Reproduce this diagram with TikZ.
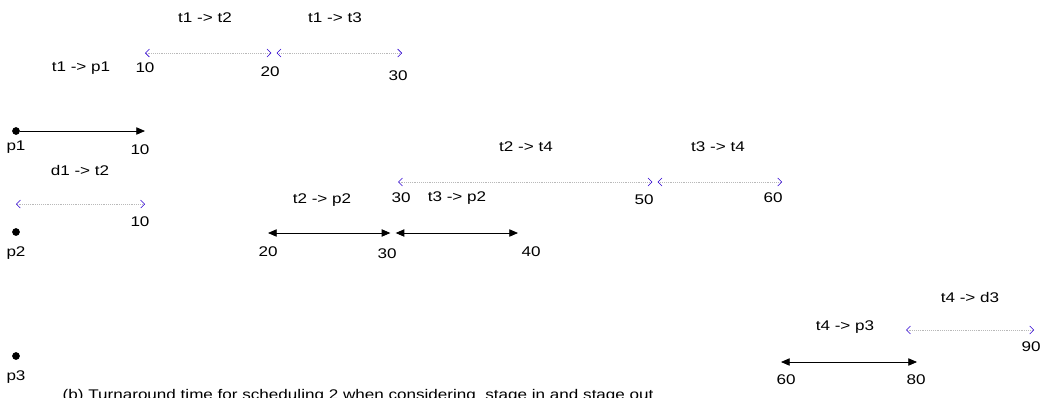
\documentclass[tikz,border=0pt]{standalone}
\usepackage{fontspec}
\setmainfont{Liberation Sans}
\usetikzlibrary{arrows.meta}
\newcommand{\widetxt}[1]{\scalebox{1.22}[1]{#1}}
\begin{document}
\begin{tikzpicture}[x=0.75pt, y=-0.75pt, font=\fontsize{10.5}{12}\selectfont,
    proc/.style={circle, fill=black, inner sep=0pt, minimum size=5.8pt},
    busy/.style={{Triangle[length=6.5pt,width=5.5pt]}-{Triangle[length=6.5pt,width=5.5pt]}, semithick},
    xfer/.style={{Straight Barb[color=blue!65!violet,length=3pt,width=6pt]}-{Straight Barb[color=blue!65!violet,length=3pt,width=6pt]}, gray!55, densely dotted}]
    \useasboundingbox (0,0) rectangle (1045,397);

    % Processors
    \node[proc] (p1) at (16,131) {};
    \node[proc] (p2) at (16,232) {};
    \node[proc] (p3) at (16,356) {};
    \node (p1lab) at (16,147) {\widetxt{p1}};
    \node (p2lab) at (16,253) {\widetxt{p2}};
    \node (p3lab) at (16,377) {\widetxt{p3}};

    % p1 row
    \coordinate (a1) at (145,131);
    \draw[-{Triangle[length=6.5pt,width=5.5pt]}, semithick] (p1) -- (a1);
    \node (a1lab) at (140,150) {\widetxt{10}};
    \node (l1) at (81,68) {\widetxt{t1 -> p1}};

    % t1 transfers
    \coordinate (b0) at (145,53);
    \coordinate (b1) at (274,53);
    \coordinate (b2) at (402,53);
    \draw[xfer] (b0) -- ([xshift=-2]b1);
    \draw[xfer] ([xshift=2]b1) -- (b2);
    \node (b0lab) at (145,68) {\widetxt{10}};
    \node (b1lab) at (270,72) {\widetxt{20}};
    \node (b2lab) at (398,76) {\widetxt{30}};
    \node (l2) at (205,18) {\widetxt{t1 -> t2}};
    \node (l3) at (335,18) {\widetxt{t1 -> t3}};

    % d1 -> t2
    \coordinate (c0) at (16,204);
    \coordinate (c1) at (145,204);
    \draw[xfer] (c0) -- (c1);
    \node (c1lab) at (140,222) {\widetxt{10}};
    \node (l4) at (80,170) {\widetxt{d1 -> t2}};

    % p2 row
    \coordinate (d0) at (268,233);
    \coordinate (d1) at (393,233);
    \coordinate (d2) at (518,233);
    \draw[busy] (d0) -- ([xshift=-2]d1);
    \draw[busy] ([xshift=2]d1) -- (d2);
    \node (d0lab) at (268,252) {\widetxt{20}};
    \node (d1lab) at (387,254) {\widetxt{30}};
    \node (d2lab) at (531,252) {\widetxt{40}};
    \node (l5) at (322,200) {\widetxt{t2 -> p2}};
    \node (l6) at (457,198) {\widetxt{t3 -> p2}};

    % transfers to t4
    \coordinate (e0) at (398,182);
    \coordinate (e1) at (655,182);
    \coordinate (e2) at (782,182);
    \draw[xfer] (e0) -- ([xshift=-2]e1);
    \draw[xfer] ([xshift=2]e1) -- (e2);
    \node (e0lab) at (401,198) {\widetxt{30}};
    \node (e1lab) at (644,200) {\widetxt{50}};
    \node (e2lab) at (773,198) {\widetxt{60}};
    \node (l7) at (526,147) {\widetxt{t2 -> t4}};
    \node (l8) at (718,147) {\widetxt{t3 -> t4}};

    % p3 row
    \coordinate (f0) at (781,362);
    \coordinate (f1) at (917,362);
    \draw[busy] (f0) -- (f1);
    \node (f0lab) at (786,380) {\widetxt{60}};
    \node (f1lab) at (916,380) {\widetxt{80}};
    \node (l9) at (845,327) {\widetxt{t4 -> p3}};

    % t4 -> d3
    \coordinate (g0) at (906,330);
    \coordinate (g1) at (1034,330);
    \draw[xfer] (g0) -- (g1);
    \node (g1lab) at (1031,347) {\widetxt{90}};
    \node (l10) at (970,297) {\widetxt{t4 -> d3}};

    % Caption
    \node[anchor=west] (cap) at (58,396) {\widetxt{(b) Turnaround time for scheduling 2 when considering \ stage in and stage out}};
\end{tikzpicture}
\end{document}
